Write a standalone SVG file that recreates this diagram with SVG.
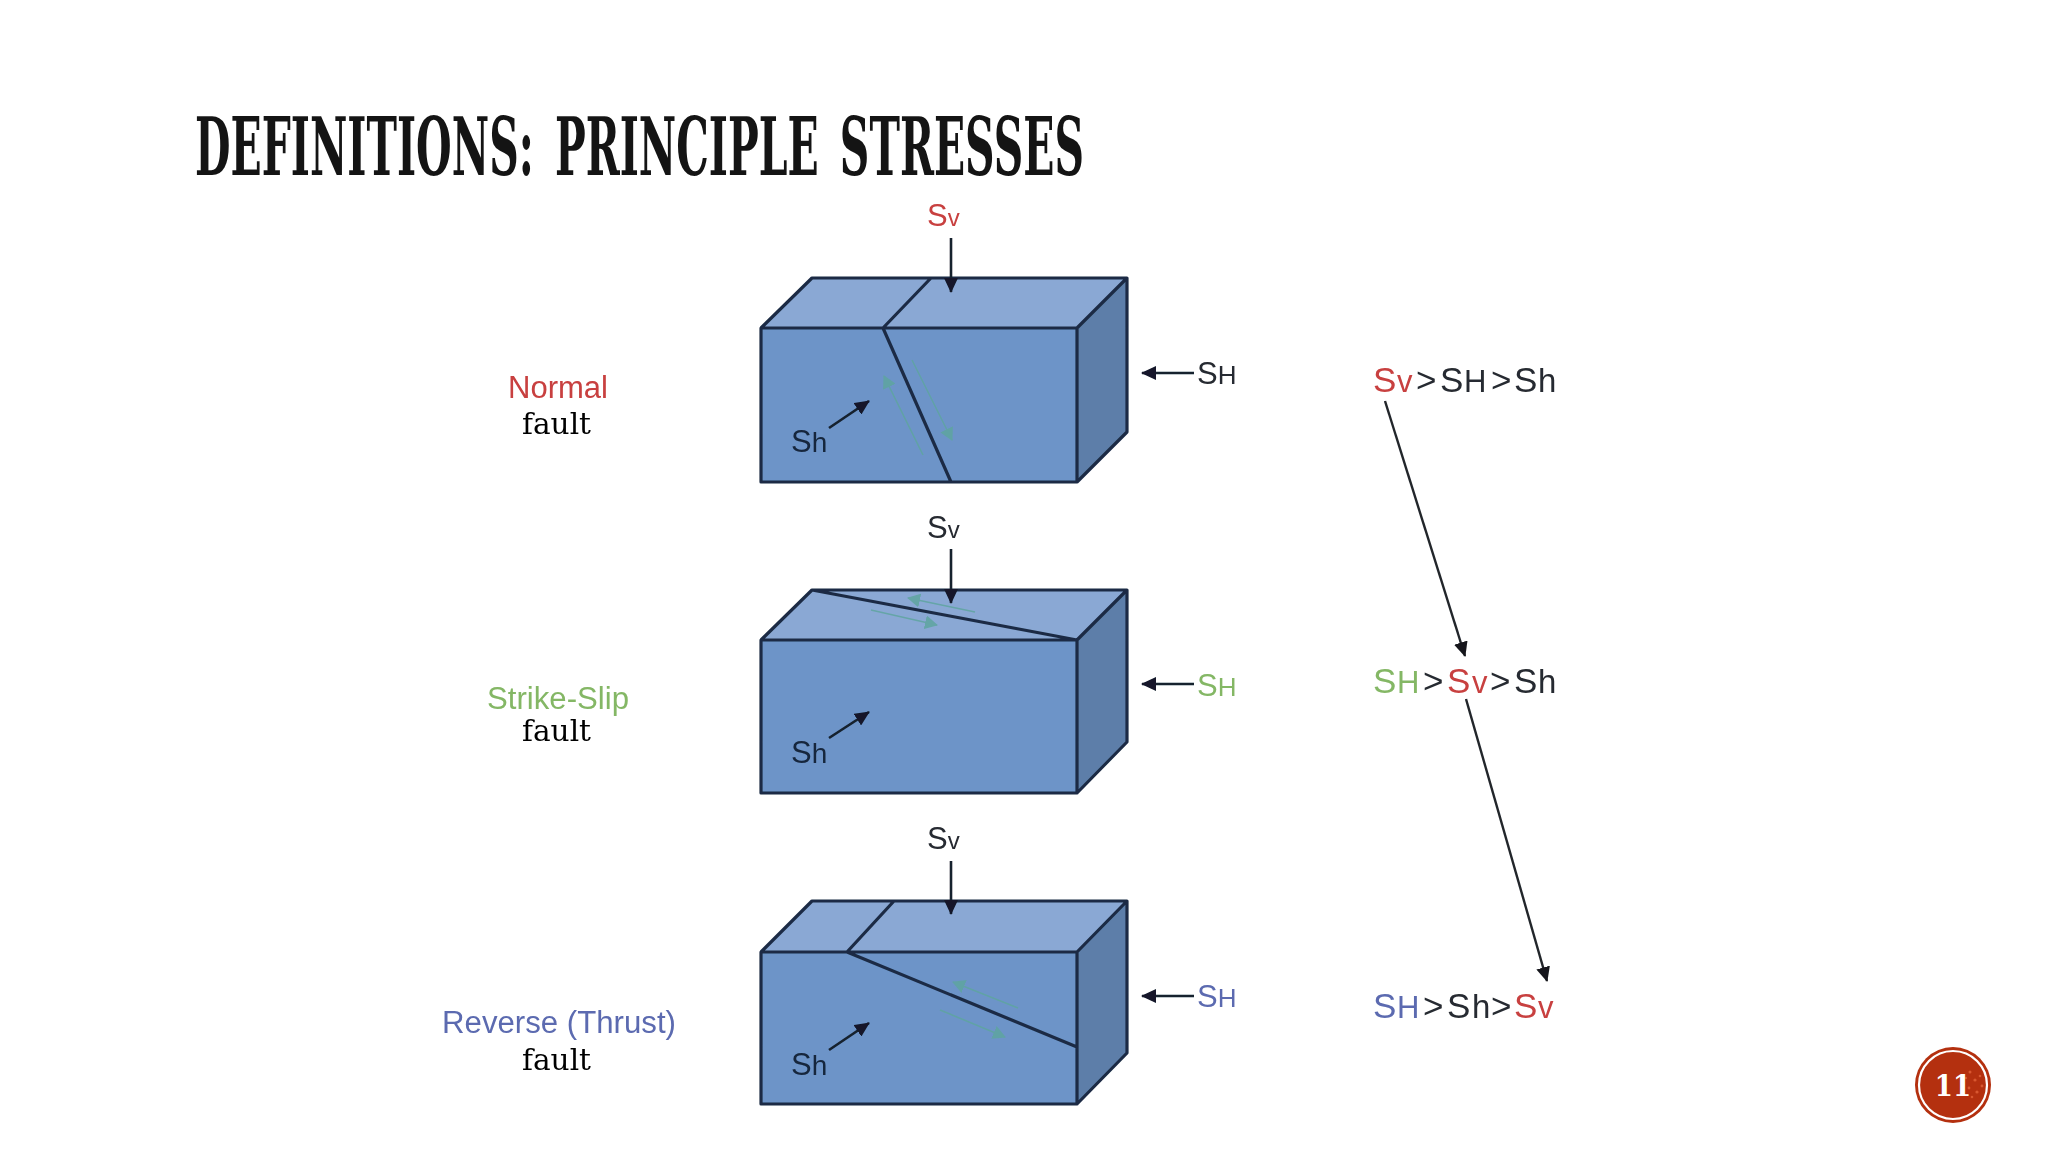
<svg xmlns="http://www.w3.org/2000/svg" width="2048" height="1152" viewBox="0 0 2048 1152">
<style>
.front{fill:#6d94c8}.top{fill:#8aa8d4}.side{fill:#5d7ea9}
.edge{fill:none;stroke:#1b2c44;stroke-width:3.2;stroke-linejoin:round}
.ar{stroke:#15202e;stroke-width:2.6;fill:none;marker-end:url(#ah)}
.ar2{stroke:#22262c;stroke-width:2.4;fill:none;marker-end:url(#ah2)}
.sl{stroke:#5fa5a0;stroke-width:1.6;fill:none;opacity:.85;marker-end:url(#gh)}
text{font-family:"Liberation Sans",Arial,sans-serif;fill:#262a30}
.b{font-size:31px}
.f{font-family:"DejaVu Serif",serif;font-size:30px;fill:#000}
.red{fill:#c8403f}.grn{fill:#84b765}.blu{fill:#5b6bb0}.drk{fill:#16263c}
.S{font-size:31px}.sub{font-size:24px}.H{font-size:26px}.h{font-size:28px}
.e{font-size:35px}.ev{font-size:31px}.eH{font-size:31px}.eh{font-size:33px}
</style>
<defs>
<marker id="ah" markerUnits="userSpaceOnUse" markerWidth="16" markerHeight="14" refX="14" refY="7" orient="auto"><path d="M0 0L15 7L0 14Z" fill="#12192a"/></marker>
<marker id="ah2" markerUnits="userSpaceOnUse" markerWidth="16" markerHeight="14" refX="14" refY="7" orient="auto"><path d="M0 0L15 7L0 14Z" fill="#15181c"/></marker>
<marker id="gh" markerUnits="userSpaceOnUse" markerWidth="14" markerHeight="14" refX="12" refY="7" orient="auto"><path d="M0 0L13 7L0 14Z" fill="#5fa5a0"/></marker>
<filter id="soft" x="-5%" y="-5%" width="110%" height="110%"><feGaussianBlur stdDeviation="0.6"/></filter>
</defs>
<rect width="2048" height="1152" fill="#fff"/>
<text id="title" x="195" y="175" font-size="80" textLength="889" lengthAdjust="spacingAndGlyphs" font-weight="700" style="font-family:'DejaVu Serif Condensed','DejaVu Serif',serif;fill:#141414;word-spacing:12px">DEFINITIONS: PRINCIPLE STRESSES</text>
<g filter="url(#soft)">
<g id="block-normal">
<polygon class="top" points="761,328 812,278 1127,278 1077,328"/><polygon class="side" points="1077,328 1127,278 1127,432 1077,482"/><rect class="front" x="761" y="328" width="316" height="154"/>
<path class="edge" d="M761 328L812 278H1127L1077 328M1127 278V432L1077 482M761 328H1077V482H761ZM931 278L883 328L951 482"/>
<path class="sl" d="M923 455L884 376"/><path class="sl" d="M912 360L952 440"/>
</g>
<g id="block-strike-slip">
<polygon class="top" points="761,640 812,590 1127,590 1077,640"/><polygon class="side" points="1077,640 1127,590 1127,742 1077,793"/><rect class="front" x="761" y="640" width="316" height="153"/>
<path class="edge" d="M761 640L812 590H1127L1077 640M1127 590V742L1077 793M761 640H1077V793H761ZM812 590L1077 640"/>
<path class="sl" d="M975 612L908 598"/><path class="sl" d="M871 610L937 625"/>
</g>
<g id="block-reverse">
<polygon class="top" points="761,952 812,901 1127,901 1077,952"/><polygon class="side" points="1077,952 1127,901 1127,1053 1077,1104"/><rect class="front" x="761" y="952" width="316" height="152"/>
<path class="edge" d="M761 952L812 901H1127L1077 952M1127 901V1053L1077 1104M761 952H1077V1104H761ZM894 901L847 952L1077 1047"/>
<path class="sl" d="M1018 1008L953 982"/><path class="sl" d="M940 1010L1005 1037"/>
</g>
<g id="connectors">
<path class="ar" d="M951 238V292"/><path class="ar" d="M951 549V603"/><path class="ar" d="M951 861V914"/>
<path class="ar" d="M1194 373H1142"/><path class="ar" d="M1194 684H1142"/><path class="ar" d="M1194 996H1142"/>
<path class="ar" d="M829 428L869 401"/><path class="ar" d="M829 738L869 712"/><path class="ar" d="M829 1050L869 1023"/>
<path class="ar2" d="M1385 401L1465 656"/><path class="ar2" d="M1466 699L1547 981"/>
</g>
<g id="labels-sv">
<text x="927" y="226"><tspan class="S red">S</tspan><tspan class="sub red">v</tspan></text>
<text x="927" y="538"><tspan class="S">S</tspan><tspan class="sub">v</tspan></text>
<text x="927" y="849"><tspan class="S">S</tspan><tspan class="sub">v</tspan></text>
</g>
<g id="labels-sh-upper">
<text x="1197" y="384"><tspan class="S">S</tspan><tspan class="H">H</tspan></text>
<text x="1197" y="696"><tspan class="S grn">S</tspan><tspan class="H grn">H</tspan></text>
<text x="1197" y="1007"><tspan class="S blu">S</tspan><tspan class="H blu">H</tspan></text>
</g>
<g id="labels-sh-lower">
<text x="791" y="452"><tspan class="S drk">S</tspan><tspan class="h drk">h</tspan></text>
<text x="791" y="763"><tspan class="S drk">S</tspan><tspan class="h drk">h</tspan></text>
<text x="791" y="1075"><tspan class="S drk">S</tspan><tspan class="h drk">h</tspan></text>
</g>
<g id="fault-names">
<text class="b red" x="508" y="398" textLength="100" lengthAdjust="spacingAndGlyphs">Normal</text>
<text class="b grn" x="487" y="709" textLength="142" lengthAdjust="spacingAndGlyphs">Strike-Slip</text>
<text class="b blu" x="442" y="1033" textLength="234" lengthAdjust="spacingAndGlyphs">Reverse (Thrust)</text>
</g>
<g id="fault-words">
<text class="f" x="522" y="434" textLength="69" lengthAdjust="spacingAndGlyphs">fault</text>
<text class="f" x="522" y="741" textLength="69" lengthAdjust="spacingAndGlyphs">fault</text>
<text class="f" x="522" y="1070" textLength="69" lengthAdjust="spacingAndGlyphs">fault</text>
</g>
<g id="order-1"><text y="392"><tspan class="e red" x="1373">S</tspan><tspan class="ev red" x="1397">v</tspan><tspan class="e" x="1416">&gt;</tspan><tspan class="e" x="1440">S</tspan><tspan class="eH" x="1464">H</tspan><tspan class="e" x="1491">&gt;</tspan><tspan class="e" x="1514">S</tspan><tspan class="eh" x="1538">h</tspan></text></g>
<g id="order-2"><text y="693"><tspan class="e grn" x="1373">S</tspan><tspan class="eH grn" x="1397">H</tspan><tspan class="e" x="1423">&gt;</tspan><tspan class="e red" x="1447">S</tspan><tspan class="ev red" x="1472">v</tspan><tspan class="e" x="1490">&gt;</tspan><tspan class="e" x="1514">S</tspan><tspan class="eh" x="1538">h</tspan></text></g>
<g id="order-3"><text y="1018"><tspan class="e blu" x="1373">S</tspan><tspan class="eH blu" x="1397">H</tspan><tspan class="e" x="1423">&gt;</tspan><tspan class="e" x="1447">S</tspan><tspan class="eh" x="1472">h</tspan><tspan class="e" x="1491">&gt;</tspan><tspan class="e red" x="1514">S</tspan><tspan class="ev red" x="1538">v</tspan></text></g>
</g>
<g id="page-badge">
<circle cx="1953" cy="1085" r="38" fill="#b4300f"/>
<g fill="#e8683f" opacity=".7"><circle cx="1970" cy="1072" r="1.5"/><circle cx="1975" cy="1080" r="1.6"/><circle cx="1969" cy="1088" r="1.4"/><circle cx="1980" cy="1076" r="1.3"/><circle cx="1977" cy="1092" r="1.6"/><circle cx="1982" cy="1086" r="1.4"/><circle cx="1972" cy="1097" r="1.3"/><circle cx="1966" cy="1078" r="1.2"/></g>
<circle cx="1953" cy="1085" r="34" fill="none" stroke="#fff" stroke-width="2.2"/>
<text x="1953" y="1096" text-anchor="middle" font-size="29" font-weight="700" style="font-family:'DejaVu Serif Condensed','DejaVu Serif',serif;fill:#fff">11</text>
</g>
</svg>
